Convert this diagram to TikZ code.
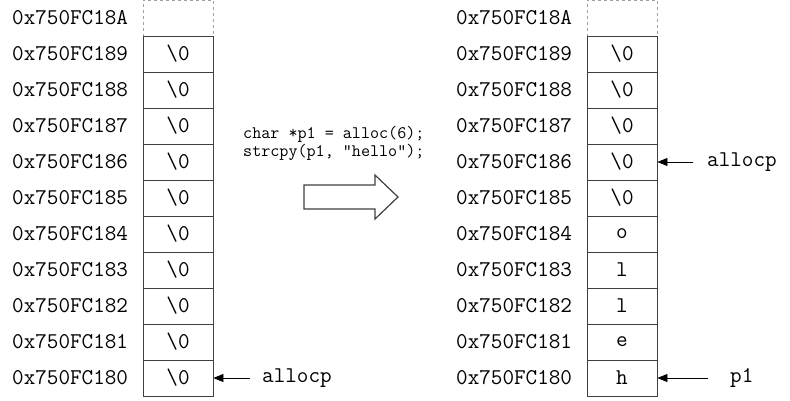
\documentclass[tikz,border=0pt]{standalone}
\usepackage{fontspec}
\usetikzlibrary{arrows.meta}
\definecolor{cellline}{HTML}{404040}
\definecolor{dashline}{HTML}{A0A0A0}
\tikzset{
  cell/.style={draw=cellline, line width=0.8pt, minimum width=70pt, minimum height=36pt, inner sep=0pt, font=\ttfamily\fontsize{22.5}{24}\selectfont},
  emptycell/.style={draw=dashline, dashed, line width=0.8pt, minimum width=70pt, minimum height=36pt, inner sep=0pt},
  addr/.style={anchor=west, inner sep=0pt, font=\ttfamily\fontsize{22.5}{24}\selectfont},
  ptrlbl/.style={anchor=west, inner sep=0pt, font=\ttfamily\fontsize{22.5}{24}\selectfont},
  ptr/.style={draw=black, line width=0.8pt, -{Triangle[length=10pt,width=8pt]}},
  bigarrow/.style={draw=cellline, line width=1.2pt, fill=white},
}
\begin{document}
\begin{tikzpicture}[x=1pt,y=1pt]
\useasboundingbox (0,0) rectangle (790,400);
% left column
\node[emptycell] (L10) at (178,382) {};
\node[addr] (LA10) at (12,382) {0x750FC18A};
\foreach \k/\h in {9/9,8/8,7/7,6/6,5/5,4/4,3/3,2/2,1/1,0/0} {
  \node[cell] (L\k) at (178,22+36*\k) {\textbackslash 0};
  \node[addr] (LA\k) at (12,22+36*\k) {0x750FC18\h};
}
% right column
\node[emptycell] (R10) at (622,382) {};
\node[addr] (RA10) at (456,382) {0x750FC18A};
\foreach \k/\h/\c in {9/9/\textbackslash 0,8/8/\textbackslash 0,7/7/\textbackslash 0,6/6/\textbackslash 0,5/5/\textbackslash 0,4/4/o,3/3/l,2/2/l,1/1/e,0/0/h} {
  \node[cell] (R\k) at (622,22+36*\k) {\c};
  \node[addr] (RA\k) at (456,22+36*\k) {0x750FC18\h};
}
% code
\node[anchor=west, align=left, inner sep=0pt, font=\ttfamily\fontsize{17.6}{18}\selectfont] (code) at (243,257) {char *p1 = alloc(6);\\strcpy(p1, \symbol{34}hello\symbol{34});};
% big arrow
\draw[bigarrow] (304,215) -- (375,215) -- (375,225) -- (398,203) -- (375,181) -- (375,191) -- (304,191) -- cycle;
% pointers
\node[ptrlbl] (lalloc) at (262,22) {allocp};
\coordinate (lallocs) at (250,22);
\draw[ptr] (lallocs) -- (L0.east);
\node[ptrlbl] (ralloc) at (707,238) {allocp};
\coordinate (rallocs) at (693,238);
\draw[ptr] (rallocs) -- (R6.east);
\node[ptrlbl] (rp1) at (730,22) {p1};
\coordinate (rp1s) at (708,22);
\draw[ptr] (rp1s) -- (R0.east);
\end{tikzpicture}
\end{document}
